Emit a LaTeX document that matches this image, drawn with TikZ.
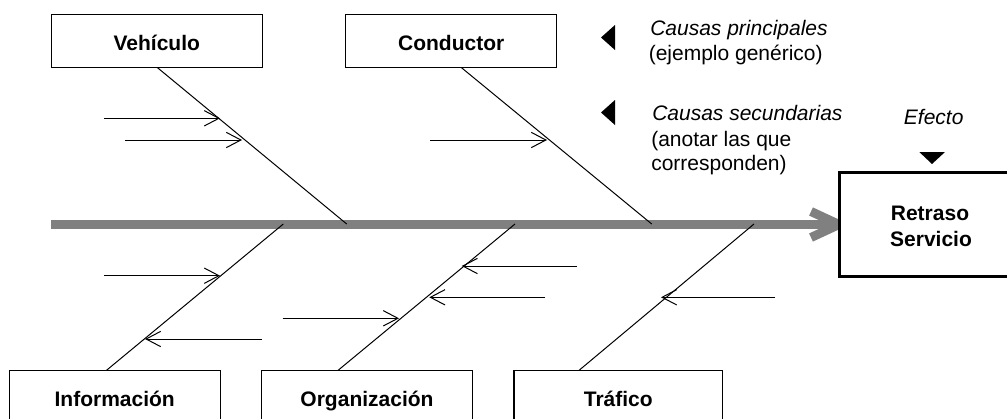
\documentclass[tikz,border=0pt]{standalone}
\usepackage{fontspec}
\setmainfont{Liberation Sans}
\usetikzlibrary{arrows.meta,calc,backgrounds}
\definecolor{spinegray}{RGB}{128,128,128}
\begin{document}
\begin{tikzpicture}[x=0.75pt,y=-0.75pt,
  every node/.style={font=\fontsize{15.75}{19}\selectfont},
  causebox/.style={draw, line width=0.8pt, inner sep=0pt, outer sep=0pt,
    minimum height=40.3pt, text height=13.5pt, text depth=0pt,
    font=\fontsize{15.75}{19}\selectfont\bfseries},
  effectbox/.style={draw, line width=2.25pt, fill=white, inner sep=0pt, outer sep=0pt,
    minimum width=135.75pt, minimum height=78pt},
  rib/.style={line width=0.75pt},
  subcause/.style={line width=0.75pt, -{Straight Barb[length=11pt,width=11.5pt,line width=0.75pt]}},
  spine/.style={line width=6.75pt, draw=spinegray},
  legendtext/.style={anchor=base west, inner sep=0pt},
  bigtext/.style={anchor=base, inner sep=0pt},
]
\useasboundingbox (0,0) rectangle (1007,418);
\clip (0,0) rectangle (1007,418);

% cause boxes
\node[causebox, minimum width=158.25pt] (veh) at (156.8,41) {Vehículo};
\node[causebox, minimum width=158.25pt] (con) at (451.2,41) {Conductor};
\node[causebox, minimum width=158pt] (inf) at (114.7,397) {Información};
\node[causebox, minimum width=158pt] (org) at (367,397) {Organización};
\node[causebox, minimum width=156.5pt] (tra) at (618.3,397) {Tráfico};

% effect box
\node[effectbox] (eff) at (929.5,224.5) {};
\node[bigtext, font=\fontsize{15.75}{19}\selectfont\bfseries] (rt1) at (930,220) {Retraso};
\node[bigtext, font=\fontsize{15.75}{19}\selectfont\bfseries] (rt2) at (931,246) {Servicio};

% spine
\coordinate (sp0) at (51.3,224.5);
\begin{scope}[on background layer]
  \draw[spine] (sp0) -- (eff.west);
  \draw[spine, line join=miter] ($(eff.west)+(-28,-13)$) -- (eff.west) -- ($(eff.west)+(-28,13)$);
\end{scope}

% rib ends on the spine
\coordinate (r1) at (346.7,224);
\coordinate (r2) at (651.7,224);
\coordinate (r3) at (283.3,224);
\coordinate (r4) at (515,224);
\coordinate (r5) at (754,224);

\draw[rib] ($(veh.south)+(0.9,0)$) -- (r1);
\draw[rib] ($(con.south)+(10.5,0)$) -- (r2);
\draw[rib] ($(inf.north)+(-8,0)$) -- (r3);
\draw[rib] ($(org.north)+(-28.7,0)$) -- (r4);
\draw[rib] ($(tra.north)+(-39,0)$) -- (r5);

% secondary causes
\coordinate (a1s) at (104,118.3);   \coordinate (a1e) at (220,118.3);
\coordinate (a2s) at (125,140);     \coordinate (a2e) at (242,140);
\coordinate (a3s) at (430,140);     \coordinate (a3e) at (547,140);
\coordinate (a4s) at (104,275.7);   \coordinate (a4e) at (220,275.7);
\coordinate (a5s) at (261.7,339);   \coordinate (a5e) at (145,339);
\coordinate (a6s) at (282.7,318.3); \coordinate (a6e) at (399,318.3);
\coordinate (a7s) at (576.7,266);   \coordinate (a7e) at (461.7,266);
\coordinate (a8s) at (545,297.3);   \coordinate (a8e) at (429.3,297.3);
\coordinate (a9s) at (775,297.3);   \coordinate (a9e) at (661,297.3);
\foreach \i in {1,...,9} {\draw[subcause] (a\i s) -- (a\i e);}

% legend
\fill (615,25) -- (615,50) -- (601,37.5) -- cycle;
\fill (615,100) -- (615,125) -- (601,112.5) -- cycle;
\fill (919.3,152) -- (945,152) -- (932,164) -- cycle;
\node[legendtext] (lp1) at (650,35) {\itshape Causas principales};
\node[legendtext] (lp2) at (648.5,60) {(ejemplo genérico)};
\node[legendtext] (ls1) at (652,120.5) {\itshape Causas secundarias};
\node[legendtext] (ls2) at (651,146.5) {(anotar las que};
\node[legendtext] (ls3) at (651,170.5) {corresponden)};
\node[bigtext] (efl) at (933.7,124) {\itshape Efecto};
\end{tikzpicture}
\end{document}
